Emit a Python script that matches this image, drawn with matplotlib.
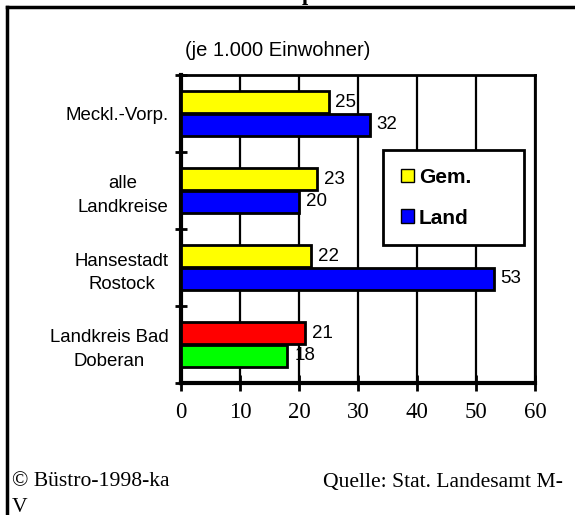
import numpy as np
import matplotlib.pyplot as plt
from matplotlib.lines import Line2D
from matplotlib.patches import Patch

# data
regions = ['Meckl.-Vorp.', 'alle\nLandkreise', 'Hansestadt\nRostock', 'Landkreis Bad\nDoberan']
gem = [25, 23, 22, 21]
land = [32, 20, 53, 18]
gem_colors = ['#ffff00', '#ffff00', '#ffff00', '#ff0000']
land_colors = ['#0000ff', '#0000ff', '#0000ff', '#00ff00']
xticks = [0, 10, 20, 30, 40, 50, 60]

W, H = 575, 515
fig = plt.figure(figsize=(W / 100, H / 100), dpi=100)
ax = fig.add_axes([181 / W, 1 - 383 / H, 354 / W, 308 / H])

y = np.arange(len(regions))
off, h = 0.145, 0.285
ax.barh(y - off, gem, height=h, color=gem_colors, edgecolor='black', linewidth=2, zorder=3)
ax.barh(y + off, land, height=h, color=land_colors, edgecolor='black', linewidth=2, zorder=3)

for yi, v in zip(y - off, gem):
    ax.annotate(str(v), (v, yi), xytext=(5, 0), textcoords='offset points',
                va='center', ha='left', fontsize=13.5, family='Liberation Sans')
for yi, v in zip(y + off, land):
    ax.annotate(str(v), (v, yi), xytext=(5, 0), textcoords='offset points',
                va='center', ha='left', fontsize=13.5, family='Liberation Sans')

ax.set_xlim(0, 60)
ax.set_ylim(3.5, -0.5)
ax.set_xticks(xticks)
ax.set_xticklabels([str(t) for t in xticks], family='Liberation Serif', fontsize=16.5)
ax.tick_params(axis='x', direction='inout', length=12, width=2, pad=8)
ax.xaxis.grid(True, color='black', linewidth=1.6, zorder=0)
ax.set_axisbelow(True)

ax.set_yticks(y)
ax.set_yticklabels(regions, family='Liberation Sans', fontsize=13.4, ha='right',
                   multialignment='center', linespacing=1.5)
ax.tick_params(axis='y', which='major', length=0, pad=9)
ax.set_yticks(np.arange(-0.5, 4, 1), minor=True)
ax.tick_params(axis='y', which='minor', direction='inout', length=9, width=2)

ax.spines['left'].set_linewidth(3)
ax.spines['bottom'].set_linewidth(3)
ax.spines['top'].set_linewidth(2)
ax.spines['right'].set_linewidth(2)

leg = ax.legend(handles=[Patch(facecolor='#ffff00', edgecolor='black', label='Gem.'),
                         Patch(facecolor='#0000ff', edgecolor='black', label='Land')],
                loc='upper left', mode='expand',
                bbox_to_anchor=(202 / 354, 1 - 167 / 308, 141 / 354, 92 / 308),
                prop={'family': 'Liberation Sans', 'weight': 'bold', 'size': 15},
                frameon=True, fancybox=False, handlelength=0.63, handleheight=0.63,
                handletextpad=0.25, labelspacing=1.05, borderpad=0.85,
                borderaxespad=0, edgecolor='black')
leg.get_frame().set_linewidth(2)
leg.get_frame().set_facecolor('white')
leg.get_frame().set_alpha(1)
leg.set_zorder(5)

fig.text(185 / W, 1 - 50 / H, '(je 1.000 Einwohner)', family='Liberation Sans',
         fontsize=14.5, ha='left', va='center')

fig.text(12 / W, 1 - 482 / H, '\u00a9 B\u00fcstro-1998-ka', family='Liberation Serif',
         fontsize=15.6, ha='left', va='center')
fig.text(12 / W, 1 - 507 / H, 'V', family='Liberation Serif',
         fontsize=15.6, ha='left', va='center')
fig.text(563 / W, 1 - 482 / H, 'Quelle: Stat. Landesamt M-', family='Liberation Serif',
         fontsize=15.6, ha='right', va='center')

# clipped title at the very top
fig.text(302 / W, 1 - 0 / H, 'p', family='Liberation Serif', weight='bold',
         fontsize=16, ha='left', va='baseline')

fig.add_artist(Line2D([7 / W, 1], [1 - 7 / H, 1 - 7 / H], color='black', linewidth=2.5))
fig.add_artist(Line2D([7 / W, 7 / W], [0, 1 - 7 / H], color='black', linewidth=2.5))

fig.savefig('out.png', dpi=100)
